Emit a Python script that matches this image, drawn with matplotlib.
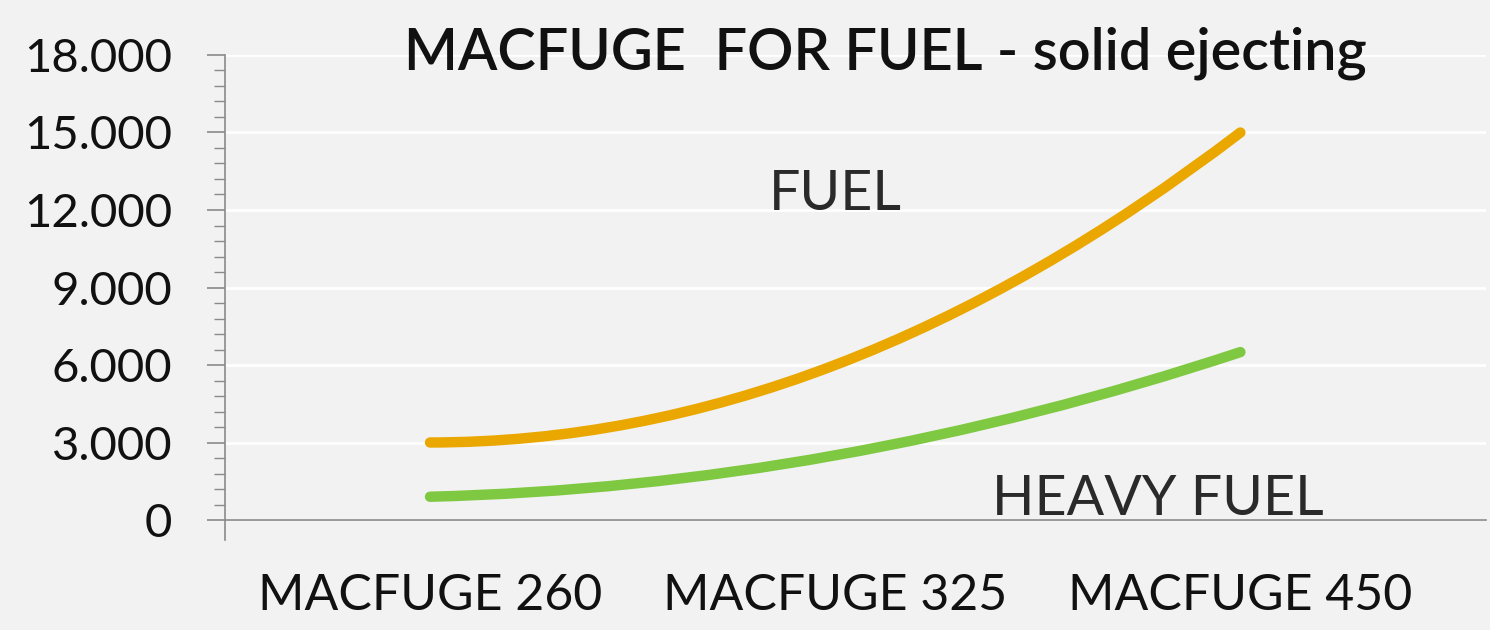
import numpy as np
import matplotlib.pyplot as plt
from matplotlib.path import Path
from matplotlib.patches import PathPatch
from matplotlib.ticker import MultipleLocator, FuncFormatter

# data
models = ['MACFUGE 260', 'MACFUGE 325', 'MACFUGE 450']
fuel = [3000, 6000, 15000]
heavy_fuel = [900, 2500, 6500]

plt.rcParams['font.family'] = ['Lato', 'DejaVu Sans']

BG = '#f2f2f2'
fig = plt.figure(figsize=(14.9, 6.3), dpi=100, facecolor=BG)
ax = fig.add_axes([0.151, 0.1746, 0.846, 0.7381], facecolor=BG)


def smooth_path(ys):
    # quadratic bezier through the three points (like Excel's smoothed line)
    xs = np.arange(len(ys))
    yc = 2 * ys[1] - 0.5 * (ys[0] + ys[2])
    verts = [(xs[0], ys[0]), (xs[1], yc), (xs[2], ys[2])]
    return Path(verts, [Path.MOVETO, Path.CURVE3, Path.CURVE3])


for ys, col in [(fuel, '#eaa700'), (heavy_fuel, '#7fc841')]:
    patch = PathPatch(smooth_path(ys), fill=False, edgecolor=col, lw=7.5,
                      capstyle='round', joinstyle='round', zorder=3)
    ax.add_patch(patch)

ax.set_xlim(-0.506, 2.605)
ax.set_ylim(0, 18000)
ax.set_xticks(range(len(models)))
ax.set_xticklabels(models)

ax.yaxis.set_major_locator(MultipleLocator(3000))
ax.yaxis.set_minor_locator(MultipleLocator(600))
ax.yaxis.set_major_formatter(FuncFormatter(lambda v, p: f'{int(v):,}'.replace(',', '.')))
ax.grid(axis='y', color='white', lw=2, zorder=0)
ax.set_axisbelow(True)

for s in ['top', 'right']:
    ax.spines[s].set_visible(False)
ax.spines['left'].set_color('#8a8a8a')
ax.spines['bottom'].set_color('#8a8a8a')
ax.spines['left'].set_linewidth(1.2)
ax.spines['bottom'].set_linewidth(1.2)
ax.spines['left'].set_bounds(-780, 18000)

ax.tick_params(axis='y', which='major', length=13, width=1.2, color='#8a8a8a',
               labelsize=34, pad=25, labelcolor='#111111')
ax.tick_params(axis='y', which='minor', length=8, width=1.0, color='#8a8a8a')
ax.tick_params(axis='x', length=0, labelsize=36, pad=38, labelcolor='#111111')

ax.text(0.484, 0.667, 'FUEL', transform=ax.transAxes, ha='center',
        va='baseline', fontsize=40, color='#2a2a2a')
ax.text(0.740, 0.011, 'HEAVY FUEL', transform=ax.transAxes, ha='center',
        va='baseline', fontsize=40, color='#2a2a2a')

fig.text(0.594, 0.889, 'MACFUGE  FOR FUEL - solid ejecting', ha='center',
         va='baseline', fontsize=41.5, fontweight=600, color='#111111')

plt.savefig('out.png', dpi=100, facecolor=BG)
